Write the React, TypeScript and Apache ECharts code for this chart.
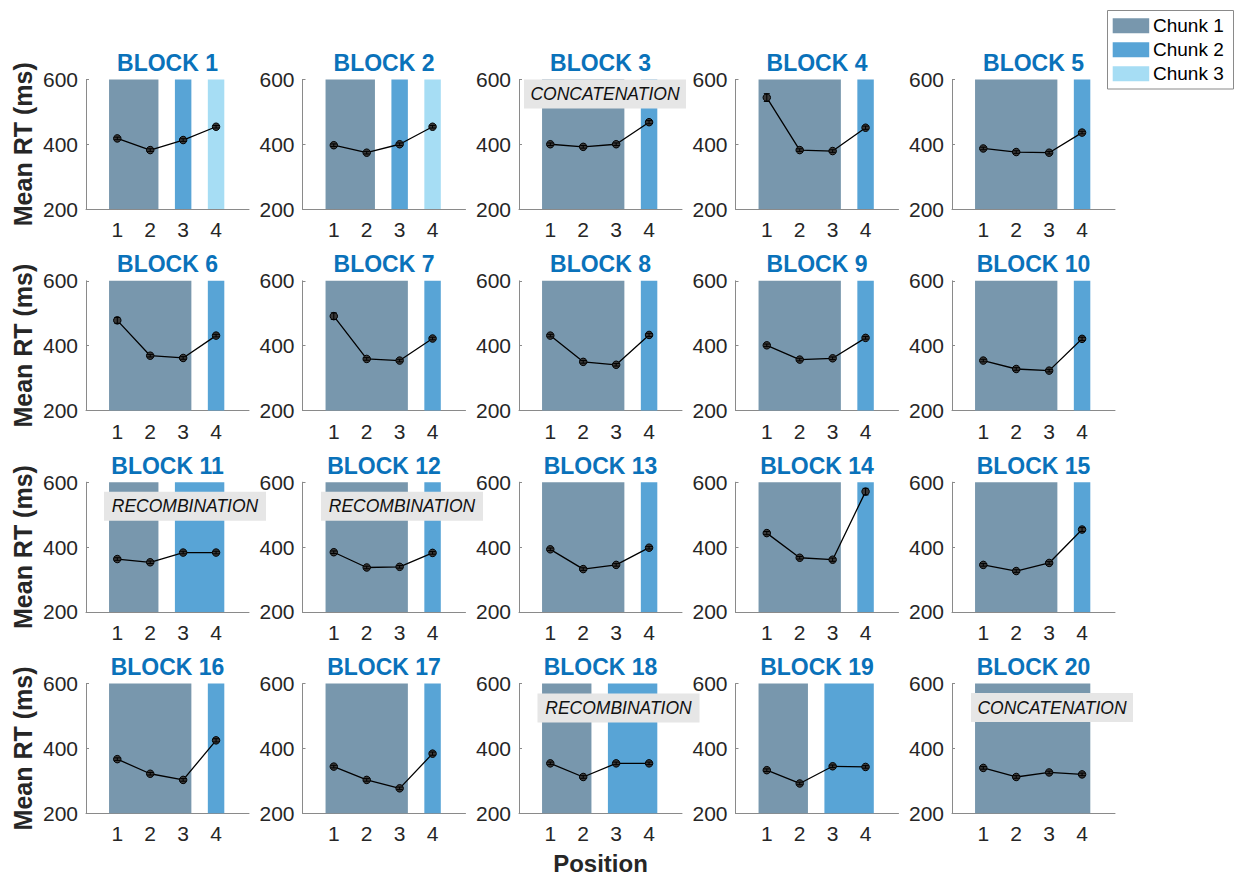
import React, { useEffect, useRef } from "react";
import * as echarts from "echarts";

const positions = [1, 2, 3, 4];
const yTicks = [200, 400, 600];
const blockTitles = [
  "BLOCK 1", "BLOCK 2", "BLOCK 3", "BLOCK 4", "BLOCK 5",
  "BLOCK 6", "BLOCK 7", "BLOCK 8", "BLOCK 9", "BLOCK 10",
  "BLOCK 11", "BLOCK 12", "BLOCK 13", "BLOCK 14", "BLOCK 15",
  "BLOCK 16", "BLOCK 17", "BLOCK 18", "BLOCK 19", "BLOCK 20",
];
const meanRT = [
  [418, 382, 413, 454],
  [397, 374, 400, 454],
  [400, 392, 400, 468],
  [544, 382, 379, 451],
  [387, 376, 374, 436],
  [478, 369, 362, 431],
  [491, 359, 354, 422],
  [431, 350, 341, 433],
  [401, 357, 361, 424],
  [354, 328, 323, 421],
  [363, 353, 383, 383],
  [384, 337, 339, 382],
  [393, 332, 345, 398],
  [443, 367, 361, 571],
  [345, 326, 351, 454],
  [367, 322, 303, 425],
  [344, 303, 277, 384],
  [354, 312, 354, 354],
  [333, 292, 345, 343],
  [340, 312, 326, 320],
];
const semRT = [
  [4, 4, 4, 4], [4, 4, 4, 4], [4, 4, 4, 5], [12, 4, 4, 5], [4, 4, 4, 4],
  [9, 4, 4, 4], [10, 4, 4, 4], [4, 4, 4, 5], [4, 4, 4, 4], [4, 4, 4, 5],
  [4, 4, 4, 4], [4, 4, 4, 4], [4, 4, 4, 4], [5, 4, 5, 10], [4, 4, 4, 6],
  [4, 4, 4, 5], [4, 4, 4, 5], [4, 4, 4, 4], [4, 4, 4, 4], [4, 4, 4, 4],
];
const chunkOf = [
  [1, 1, 2, 3], [1, 1, 2, 3], [1, 1, 1, 2], [1, 1, 1, 2], [1, 1, 1, 2],
  [1, 1, 1, 2], [1, 1, 1, 2], [1, 1, 1, 2], [1, 1, 1, 2], [1, 1, 1, 2],
  [1, 1, 2, 2], [1, 1, 1, 2], [1, 1, 1, 2], [1, 1, 1, 2], [1, 1, 1, 2],
  [1, 1, 1, 2], [1, 1, 1, 2], [1, 1, 2, 2], [1, 1, 2, 2], [1, 1, 1, 1],
];
const chunkNames = ["Chunk 1", "Chunk 2", "Chunk 3"];
const chunkColors = ["#7897ad", "#58a4d6", "#a6ddf4"];
const annotations = [
  { block: 3, text: "CONCATENATION", dx: 5, dy: 0 },
  { block: 11, text: "RECOMBINATION", dx: 18, dy: 9.5 },
  { block: 12, text: "RECOMBINATION", dx: 18.5, dy: 9.5 },
  { block: 18, text: "RECOMBINATION", dx: 18.5, dy: 9.8 },
  { block: 20, text: "CONCATENATION", dx: 19, dy: 9.5 },
];

const FONT = "'Liberation Sans', Arial, Helvetica, sans-serif";
const AX = "#8a8a8a";

export default function App() {
  const ref = useRef<HTMLDivElement>(null);
  useEffect(() => {
    document.body.style.margin = "0";
    const chart = echarts.init(ref.current!, null, { renderer: "svg" });
    const COLS = 5;
    const L0 = 86, DX = 216.5, T0 = 79.4, DY = 201.4, W = 163, H = 129.7;
    const grids: any[] = [];
    const xAxes: any[] = [];
    const yAxes: any[] = [];
    const series: any[] = [];
    const graphics: any[] = [];

    blockTitles.forEach((title, i) => {
      const c = i % COLS;
      const r = Math.floor(i / COLS);
      const left = L0 + c * DX;
      const top = T0 + r * DY;
      grids.push({ left, top, width: W, height: H });
      xAxes.push({
        type: "value", gridIndex: i, min: 0.05, max: 5,
        axisLine: { show: true, lineStyle: { color: AX, width: 1 } },
        axisTick: { show: true, inside: true, length: 3, lineStyle: { color: AX }, customValues: positions },
        axisLabel: { customValues: positions, fontSize: 21, color: "#262626", fontFamily: FONT, margin: 10 },
        splitLine: { show: false },
      });
      yAxes.push({
        type: "value", gridIndex: i, min: yTicks[0], max: yTicks[yTicks.length - 1], interval: 200,
        axisLine: { show: true, lineStyle: { color: AX, width: 1 } },
        axisTick: { show: true, inside: true, length: 3, lineStyle: { color: AX } },
        axisLabel: { fontSize: 21, color: "#262626", fontFamily: FONT, margin: 8 },
        splitLine: { show: false },
      });
      const runs: number[][] = [];
      const ch = chunkOf[i];
      let s = 0;
      for (let k = 1; k <= ch.length; k++) {
        if (k === ch.length || ch[k] !== ch[s]) {
          runs.push([positions[s] - 0.25, positions[k - 1] + 0.25, ch[s]]);
          s = k;
        }
      }
      series.push({
        type: "custom", xAxisIndex: i, yAxisIndex: i, silent: true, z: 1,
        data: runs,
        renderItem: (_p: any, api: any) => {
          const p0 = api.coord([api.value(0), 600]);
          const p1 = api.coord([api.value(1), 200]);
          return {
            type: "rect",
            shape: { x: p0[0], y: p0[1], width: p1[0] - p0[0], height: p1[1] - p0[1] },
            style: { fill: chunkColors[api.value(2) - 1] },
          };
        },
      });
      series.push({
        type: "line", xAxisIndex: i, yAxisIndex: i, z: 3, silent: true,
        data: positions.map((p, k) => [p, meanRT[i][k]]),
        lineStyle: { color: "#000", width: 1.3 },
        symbol: "circle", symbolSize: 7.5,
        itemStyle: { color: "#3a3a3a", borderColor: "#000", borderWidth: 1 },
      });
      series.push({
        type: "custom", xAxisIndex: i, yAxisIndex: i, z: 4, silent: true,
        data: positions.map((p, k) => [p, meanRT[i][k] - semRT[i][k], meanRT[i][k] + semRT[i][k]]),
        renderItem: (_p: any, api: any) => {
          const lo = api.coord([api.value(0), api.value(1)]);
          const hi = api.coord([api.value(0), api.value(2)]);
          const cw = 3;
          const st = { stroke: "#000", lineWidth: 1 };
          return {
            type: "group",
            children: [
              { type: "line", shape: { x1: lo[0], y1: lo[1], x2: hi[0], y2: hi[1] }, style: st },
              { type: "line", shape: { x1: lo[0] - cw, y1: lo[1], x2: lo[0] + cw, y2: lo[1] }, style: st },
              { type: "line", shape: { x1: hi[0] - cw, y1: hi[1], x2: hi[0] + cw, y2: hi[1] }, style: st },
            ],
          };
        },
      });
      graphics.push({
        type: "text", x: left + W / 2, y: top - 16.5, z: 10,
        style: { text: title, fontSize: 23, fontWeight: "bold", fontFamily: FONT, fill: "#0a72ba", textAlign: "center", textVerticalAlign: "middle" },
      });
      if (c === 0) {
        graphics.push({
          type: "text", x: 23, y: top + H / 2, rotation: Math.PI / 2, z: 10,
          style: { text: "Mean RT (ms)", fontSize: 25, fontWeight: "bold", fontFamily: FONT, fill: "#262626", textAlign: "center", textVerticalAlign: "middle" },
        });
      }
    });

    annotations.forEach((a) => {
      const i = a.block - 1;
      const left = L0 + (i % COLS) * DX + a.dx;
      const top = T0 + Math.floor(i / COLS) * DY + a.dy;
      graphics.push({ type: "rect", z: 20, shape: { x: left, y: top, width: 162, height: 29 }, style: { fill: "#e6e6e6" } });
      graphics.push({
        type: "text", z: 21, x: left + 81, y: top + 14.5,
        style: { text: a.text, fontSize: 17.5, fontStyle: "italic", fontFamily: FONT, fill: "#111", textAlign: "center", textVerticalAlign: "middle" },
      });
    });

    graphics.push({
      type: "text", x: L0 + 2 * DX + W / 2, y: 863, z: 10,
      style: { text: "Position", fontSize: 24, fontWeight: "bold", fontFamily: FONT, fill: "#262626", textAlign: "center", textVerticalAlign: "middle" },
    });

    graphics.push({ type: "rect", z: 30, shape: { x: 1107.5, y: 10.5, width: 126, height: 78.5 }, style: { fill: "#fff", stroke: "#8a8a8a", lineWidth: 1 } });
    chunkNames.forEach((name, k) => {
      const cy = 25.8 + k * 24;
      graphics.push({ type: "rect", z: 31, shape: { x: 1112.7, y: cy - 7.5, width: 36.5, height: 15 }, style: { fill: chunkColors[k] } });
      graphics.push({
        type: "text", z: 31, x: 1153, y: cy,
        style: { text: name, fontSize: 19, fontFamily: FONT, fill: "#000", textAlign: "left", textVerticalAlign: "middle" },
      });
    });

    chart.setOption({
      animation: false,
      backgroundColor: "#fff",
      grid: grids,
      xAxis: xAxes,
      yAxis: yAxes,
      series,
      graphic: graphics,
    });
    return () => chart.dispose();
  }, []);
  return <div ref={ref} style={{ position: "absolute", left: 0, top: 0, width: 1236, height: 875 }} />;
}
